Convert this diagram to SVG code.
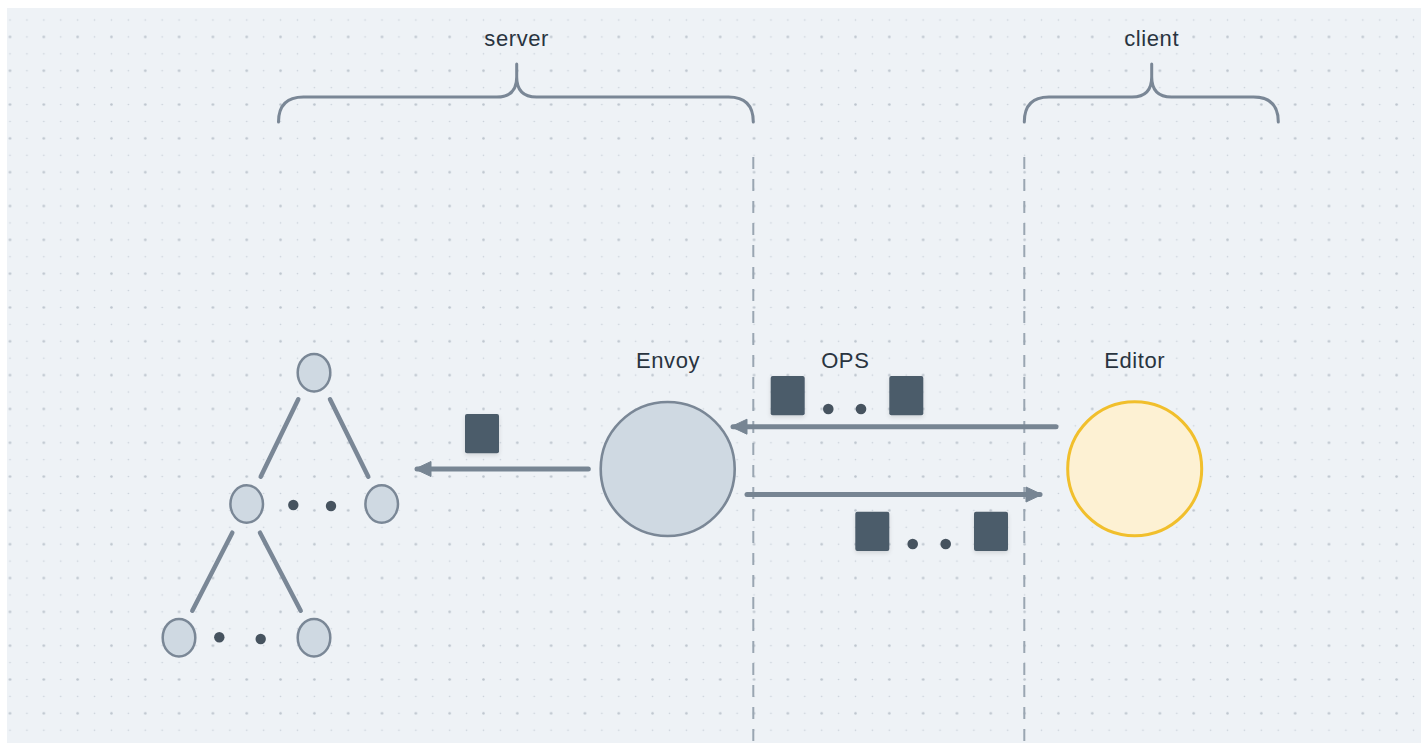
<svg xmlns="http://www.w3.org/2000/svg" width="1421" height="746" viewBox="0 0 1421 746">
<defs>
<pattern id="grid" patternUnits="userSpaceOnUse" x="1.545" y="11.545" width="33.82" height="33.82">
<circle cx="8.455" cy="8.455" r="0.8" fill="#c9d0d8"/>
<circle cx="25.365" cy="8.455" r="0.8" fill="#c9d0d8"/>
<circle cx="25.365" cy="25.365" r="0.8" fill="#c9d0d8"/>
<circle cx="8.455" cy="25.365" r="1.3" fill="#bcc4cd"/>
</pattern>
<filter id="shadow" x="-30%" y="-30%" width="160%" height="160%">
<feDropShadow dx="0" dy="2" stdDeviation="2" flood-color="#000" flood-opacity="0.12"/>
</filter>
<marker id="arrow" viewBox="0 0 18 18" refX="15" refY="9" markerWidth="18" markerHeight="18" markerUnits="userSpaceOnUse" orient="auto">
<path d="M1,1.5 L17,9 L1,16.5 Z" fill="#778593" stroke="#778593" stroke-width="1" stroke-linejoin="round"/>
</marker>
</defs>
<style>
text{font-family:"Liberation Sans",Arial,sans-serif;font-size:22px;fill:#29343f;text-anchor:middle;letter-spacing:0.6px}
.brace{fill:none;stroke:#7a8796;stroke-width:3;stroke-linecap:round;stroke-linejoin:round}
.dash{stroke:#9aa6b2;stroke-width:2;stroke-dasharray:12 10}
.tn{fill:#cfd9e2;stroke:#7a8796;stroke-width:2.5}
.te{stroke:#7a8796;stroke-width:4.5;stroke-linecap:round}
.dot{fill:#46535f}
.sq{fill:#4b5b6a;filter:url(#shadow)}
.arr{stroke:#778593;stroke-width:5;stroke-linecap:round;fill:none;marker-end:url(#arrow)}
</style>
<rect x="0" y="0" width="1421" height="746" fill="#ffffff"/>
<rect x="7" y="8" width="1414" height="735" fill="#eef2f6"/>
<rect x="7" y="8" width="1414" height="735" fill="url(#grid)"/>

<g id="server-brace">
<path class="brace" d="M278.5,122 Q278.5,97 303.5,97 L497,97 Q516.7,97 516.7,77 L516.7,64 M516.7,77 Q516.7,97 536.5,97 L728.5,97 Q753.3,97 753.3,122"/>
<text x="516.7" y="46">server</text>
</g>
<g id="client-brace">
<path class="brace" d="M1024.3,122 Q1024.3,97 1049,97 L1132,97 Q1151.7,97 1151.7,77 L1151.7,64 M1151.7,77 Q1151.7,97 1171.5,97 L1253.5,97 Q1278.3,97 1278.3,122"/>
<text x="1151.7" y="46">client</text>
</g>
<g id="boundaries">
<line class="dash" x1="753.3" y1="157" x2="753.3" y2="746"/>
<line class="dash" x1="1024.3" y1="157" x2="1024.3" y2="746"/>
</g>

<g id="tree">
<line class="te" x1="298.3" y1="399.3" x2="260.7" y2="476.7"/>
<line class="te" x1="330" y1="399.3" x2="368.3" y2="476.7"/>
<line class="te" x1="232.3" y1="532.7" x2="192.3" y2="610.7"/>
<line class="te" x1="260" y1="532.7" x2="300.7" y2="610.7"/>
<ellipse class="tn" cx="314" cy="372.7" rx="16.3" ry="18.8"/>
<ellipse class="tn" cx="246.7" cy="504" rx="16.3" ry="18.8"/>
<ellipse class="tn" cx="381.7" cy="504" rx="16.3" ry="18.8"/>
<ellipse class="tn" cx="179" cy="637.7" rx="16.3" ry="18.8"/>
<ellipse class="tn" cx="314" cy="637.7" rx="16.3" ry="18.8"/>
<circle class="dot" cx="293.3" cy="505" r="5.2"/>
<circle class="dot" cx="331" cy="506" r="5.2"/>
<circle class="dot" cx="219.3" cy="637.3" r="5.2"/>
<circle class="dot" cx="260.7" cy="639" r="5.2"/>
</g>

<g id="envoy">
<circle cx="667.7" cy="469" r="67" fill="#cfd9e2" stroke="#7a8796" stroke-width="2.6"/>
<text x="668" y="368">Envoy</text>
</g>
<g id="editor">
<circle cx="1134.7" cy="468.7" r="67" fill="#fdf1d3" stroke="#f1bf2c" stroke-width="3"/>
<text x="1134.7" y="368">Editor</text>
</g>

<g id="connectors">
<line class="arr" x1="1056" y1="426.7" x2="733" y2="426.7"/>
<line class="arr" x1="747" y1="494.5" x2="1040" y2="494.5"/>
<line class="arr" x1="588.3" y1="469" x2="417" y2="469"/>
</g>

<g id="ops">
<text x="845.3" y="368">OPS</text>
<rect class="sq" x="770.7" y="376" width="34" height="39.3" rx="2"/>
<circle class="dot" cx="828.3" cy="409" r="5.3"/>
<circle class="dot" cx="861" cy="409" r="5.3"/>
<rect class="sq" x="889.3" y="376" width="34" height="39.3" rx="2"/>
</g>
<g id="ops-out">
<rect class="sq" x="855.3" y="511.7" width="34" height="39.3" rx="2"/>
<circle class="dot" cx="912.7" cy="544" r="5.3"/>
<circle class="dot" cx="945.7" cy="544" r="5.3"/>
<rect class="sq" x="974" y="511.7" width="34" height="39.3" rx="2"/>
</g>
<g id="op-single">
<rect class="sq" x="465" y="414" width="34" height="39.3" rx="2"/>
</g>
</svg>
